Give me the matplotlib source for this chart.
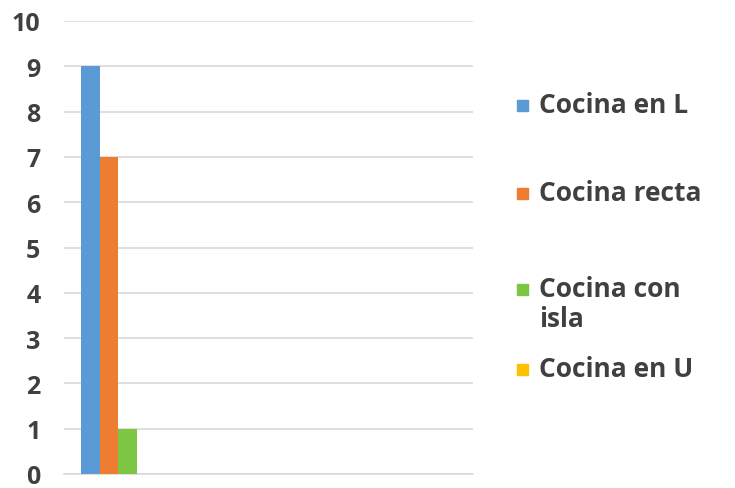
import matplotlib.pyplot as plt
from matplotlib.patches import Rectangle

# datos
series = ['Cocina en L', 'Cocina recta', 'Cocina con\nisla', 'Cocina en U']
values = [9, 7, 1, 0]
colors = ['#5B9BD5', '#ED7D31', '#7CC644', '#FFC000']
n_categories = 4  # solo la primera categoria tiene datos
y_ticks = list(range(0, 11))

W, H = 735, 489
fig = plt.figure(figsize=(W / 100, H / 100), dpi=100)
ax = fig.add_axes([64 / W, 1 - 475 / H, (473 - 64) / W, (475 - 22) / H])

font = 'Open Sans'
txt_color = '#404040'

bar_w = 1 / 5.5
for i, (v, c) in enumerate(zip(values, colors)):
    ax.bar(0 + (i - 1.5) * bar_w, v, bar_w, color=c, zorder=3)

ax.set_xlim(-0.53, n_categories - 0.53)
ax.set_ylim(0, 10)
ax.set_yticks(y_ticks)
ax.set_xticks([])
ax.grid(axis='y', color='#D9D9D9', linewidth=1.2, zorder=0)
for s in ['left', 'right', 'top']:
    ax.spines[s].set_visible(False)
ax.spines['bottom'].set_color('#D9D9D9')
ax.spines['bottom'].set_linewidth(1.2)
ax.tick_params(axis='y', length=0, pad=17, labelcolor=txt_color)
for lab in ax.get_yticklabels():
    lab.set_fontfamily(font)
    lab.set_fontweight('bold')
    lab.set_fontsize(18)

# leyenda a la derecha
baselines = [113, 201, 297, 377]
for lab, c, b in zip(series, colors, baselines):
    fig.patches.append(Rectangle((517 / W, 1 - (b - 1) / H), 11 / W, 11 / H,
                                 transform=fig.transFigure, color=c))
    fig.text(539 / W, 1 - b / H, lab.split('\n')[0], fontfamily=font,
             fontweight='bold', fontsize=19, color=txt_color, va='baseline')
    if '\n' in lab:
        fig.text(539 / W, 1 - (b + 30) / H, lab.split('\n')[1], fontfamily=font,
                 fontweight='bold', fontsize=19, color=txt_color, va='baseline')

fig.savefig('out.png', dpi=100)
